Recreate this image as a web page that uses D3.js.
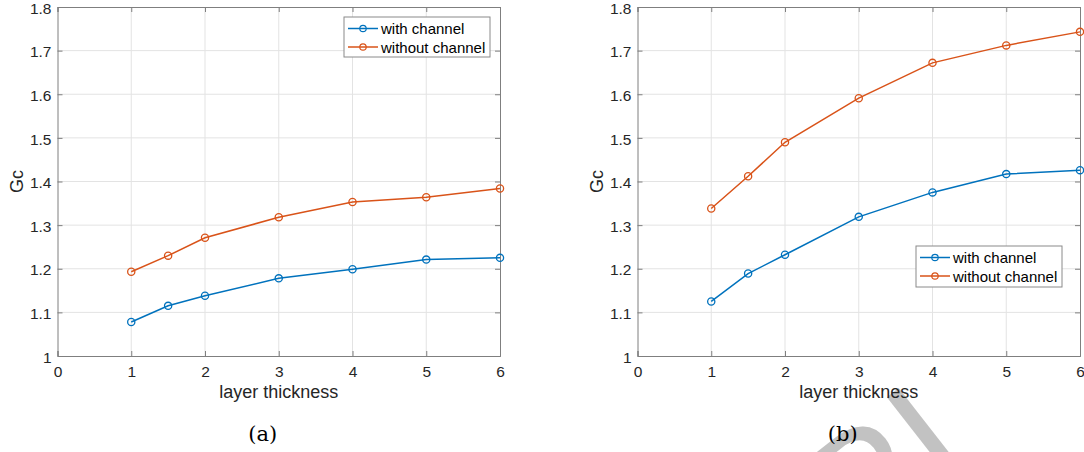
<!DOCTYPE html>
<html>
<head>
<meta charset="utf-8">
<script src="https://cdn.jsdelivr.net/npm/d3@7"></script>
<style>
  html, body { margin: 0; padding: 0; background: #fff; }
  svg { display: block; }
</style>
</head>
<body>
<svg id="fig" width="1084" height="452"></svg>
<script>
// Layer thickness samples shared by both panels
const thickness = [1, 1.5, 2, 3, 4, 5, 6];

// Panel (a)
const gcWithA    = [1.078, 1.115, 1.138, 1.178, 1.199, 1.221, 1.225];
const gcWithoutA = [1.193, 1.230, 1.271, 1.318, 1.353, 1.364, 1.384];

// Panel (b)
const gcWithB    = [1.125, 1.189, 1.232, 1.319, 1.375, 1.417, 1.426];
const gcWithoutB = [1.338, 1.412, 1.490, 1.591, 1.672, 1.712, 1.743];

const seriesNames = ["with channel", "without channel"];
const seriesColors = ["#0072BD", "#D95319"];

const xTicks = [0, 1, 2, 3, 4, 5, 6];
const yTicks = [1, 1.1, 1.2, 1.3, 1.4, 1.5, 1.6, 1.7, 1.8];

const svg = d3.select("#fig");
const font = "'Liberation Sans', Arial, Helvetica, sans-serif";

// Watermark behind everything
const wm = svg.append("g").attr("transform", "translate(915,515) rotate(-38)");
wm.append("text")
  .attr("x", 0).attr("y", 0)
  .attr("text-anchor", "middle")
  .attr("font-family", font)
  .attr("font-size", 160)
  .attr("fill", "#c2c2c2")
  .text("RI");

function panel(left, right, top, bottom, withVals, withoutVals, legendPos, caption) {
  const x = d3.scaleLinear().domain([0, 6]).range([left, right]);
  const y = d3.scaleLinear().domain([1, 1.8]).range([bottom, top]);
  const g = svg.append("g");

  // white plot background
  g.append("rect").attr("x", left).attr("y", top)
    .attr("width", right - left).attr("height", bottom - top).attr("fill", "#fff");

  // grid
  g.append("g").selectAll("line").data(xTicks.slice(1, -1)).join("line")
    .attr("x1", d => x(d)).attr("x2", d => x(d))
    .attr("y1", top).attr("y2", bottom)
    .attr("stroke", "#e3e3e3").attr("stroke-width", 1);
  g.append("g").selectAll("line").data(yTicks.slice(1, -1)).join("line")
    .attr("x1", left).attr("x2", right)
    .attr("y1", d => y(d)).attr("y2", d => y(d))
    .attr("stroke", "#e3e3e3").attr("stroke-width", 1);

  // axes with inward ticks
  const axCol = "#7f7f7f";
  const bottomAxis = d3.axisBottom(x).tickValues(xTicks).tickSize(-5).tickPadding(10)
    .tickFormat(d3.format("d"));
  const leftAxis = d3.axisLeft(y).tickValues(yTicks).tickSize(-5).tickPadding(6)
    .tickFormat(d => d === 1 ? "1" : d3.format(".1f")(d));
  const topAxis = d3.axisTop(x).tickValues(xTicks).tickSize(-5).tickFormat("");
  const rightAxis = d3.axisRight(y).tickValues(yTicks).tickSize(-5).tickFormat("");

  [[bottomAxis, `translate(0,${bottom})`], [leftAxis, `translate(${left},0)`],
   [topAxis, `translate(0,${top})`], [rightAxis, `translate(${right},0)`]].forEach(([ax, tr]) => {
    const a = g.append("g").attr("transform", tr).call(ax);
    a.select(".domain").attr("stroke", axCol).attr("stroke-width", 1);
    a.selectAll(".tick line").attr("stroke", axCol);
    a.selectAll(".tick text").attr("fill", "#262626")
      .attr("font-family", font).attr("font-size", 15.5);
  });
  g.selectAll("text").filter(function () { return this.getAttribute("dy") === "0.32em"; })
    .attr("dy", "0.4em");

  // axis labels
  g.append("text")
    .attr("x", (left + right) / 2).attr("y", 398)
    .attr("text-anchor", "middle")
    .attr("font-family", font).attr("font-size", 18).attr("fill", "#262626")
    .text("layer thickness");
  g.append("text")
    .attr("transform", `translate(${left - 34.5},${(top + bottom) / 2}) rotate(-90)`)
    .attr("text-anchor", "middle")
    .attr("font-family", font).attr("font-size", 18).attr("fill", "#262626")
    .text("Gc");

  // series
  const line = d3.line().x((d, i) => x(thickness[i])).y(d => y(d));
  [withVals, withoutVals].forEach((vals, k) => {
    g.append("path").datum(vals)
      .attr("d", line).attr("fill", "none")
      .attr("stroke", seriesColors[k]).attr("stroke-width", 1.5);
    g.append("g").selectAll("circle").data(vals).join("circle")
      .attr("cx", (d, i) => x(thickness[i])).attr("cy", d => y(d))
      .attr("r", 3.6).attr("fill", "none")
      .attr("stroke", seriesColors[k]).attr("stroke-width", 1.3);
  });

  // legend
  const [lx, ly, lw, lh] = legendPos;
  const lg = g.append("g");
  lg.append("rect").attr("x", lx).attr("y", ly).attr("width", lw).attr("height", lh)
    .attr("fill", "#fff").attr("stroke", "#8a8a8a").attr("stroke-width", 1);
  seriesNames.forEach((name, k) => {
    const cy = ly + 11.5 + k * 18.5;
    lg.append("line").attr("x1", lx + 4).attr("x2", lx + 34)
      .attr("y1", cy).attr("y2", cy)
      .attr("stroke", seriesColors[k]).attr("stroke-width", 1.5);
    lg.append("circle").attr("cx", lx + 19).attr("cy", cy).attr("r", 3.2)
      .attr("fill", "none").attr("stroke", seriesColors[k]).attr("stroke-width", 1.2);
    lg.append("text").attr("x", lx + 37).attr("y", cy + 5.5)
      .attr("font-family", font).attr("font-size", 15).attr("fill", "#000")
      .text(name);
  });

  // caption
  svg.append("text")
    .attr("x", (left + right) / 2 - 16).attr("y", 441)
    .attr("text-anchor", "middle")
    .attr("font-family", "'DejaVu Serif', 'Liberation Serif', serif")
    .attr("font-size", 21).attr("fill", "#000")
    .text(caption);
}

panel(57.5, 500, 7, 356, gcWithA, gcWithoutA, [344, 17, 146, 40], "(a)");
panel(637.5, 1080, 7, 356, gcWithB, gcWithoutB, [916, 246, 146, 41], "(b)");
</script>
</body>
</html>
